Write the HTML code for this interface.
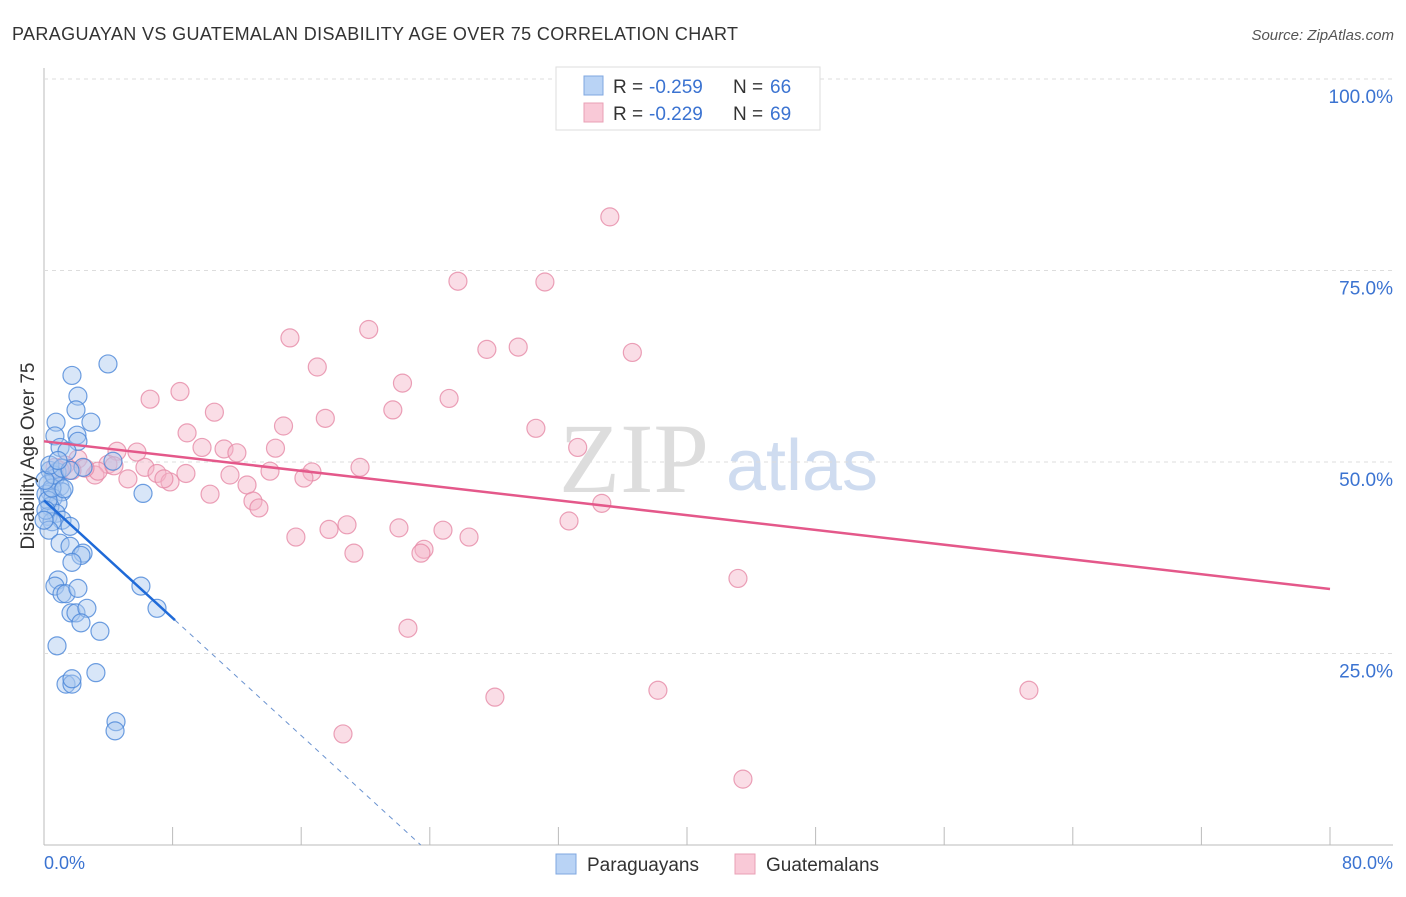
<!DOCTYPE html>
<html><head><meta charset="utf-8"><style>
body{margin:0;background:#fff;font-family:"Liberation Sans",sans-serif;}
</style></head><body>
<svg id="c" width="1406" height="892" xmlns="http://www.w3.org/2000/svg" font-family="Liberation Sans, sans-serif">
<text x="12" y="40" font-size="18" fill="#333" textLength="726">PARAGUAYAN VS GUATEMALAN DISABILITY AGE OVER 75 CORRELATION CHART</text>
<text x="1394" y="40" font-size="15" fill="#555" text-anchor="end" font-style="italic">Source: ZipAtlas.com</text>
<text x="634" y="492" font-size="100" fill="#ddd" style="font-family:'Liberation Serif',serif" text-anchor="middle">ZIP</text>
<text x="802" y="490" font-size="72" fill="#cfdcf0" text-anchor="middle">atlas</text>
<g id="grid"></g><g id="marks"></g>
<text transform="translate(34,456) rotate(-90)" font-size="19" fill="#333" text-anchor="middle">Disability Age Over 75</text>
<text x="44" y="869" font-size="18" fill="#3b73d1">0.0%</text>
<text x="1393" y="869" font-size="18" fill="#3b73d1" text-anchor="end">80.0%</text>
<g>
<rect x="556" y="67" width="264" height="63" fill="#fff" stroke="#ddd"/>
<rect x="584" y="76" width="19" height="19" fill="#b9d3f5" stroke="#7fa7e0"/>
<rect x="584" y="103" width="19" height="19" fill="#f9c9d7" stroke="#e9a0b6"/>
<text x="613" y="93" font-size="19" fill="#333">R =</text>
<text x="649" y="93" font-size="19" fill="#3b73d1">-0.259</text>
<text x="733" y="93" font-size="19" fill="#333">N =</text>
<text x="770" y="93" font-size="19" fill="#3b73d1">66</text>
<text x="613" y="120" font-size="19" fill="#333">R =</text>
<text x="649" y="120" font-size="19" fill="#3b73d1">-0.229</text>
<text x="733" y="120" font-size="19" fill="#333">N =</text>
<text x="770" y="120" font-size="19" fill="#3b73d1">69</text>
</g>
<g>
<rect x="556" y="854" width="20" height="20" fill="#b9d3f5" stroke="#7fa7e0"/>
<text x="587" y="871" font-size="19" fill="#333">Paraguayans</text>
<rect x="735" y="854" width="20" height="20" fill="#f9c9d7" stroke="#e9a0b6"/>
<text x="766" y="871" font-size="19" fill="#333">Guatemalans</text>
</g>
</svg>
<script>
const yTicks=[25,50,75,100];
const yTickLabels=["25.0%","50.0%","75.0%","100.0%"];
const xTicks=[0,8,16,24,32,40,48,56,64,72,80];
const blueX=[3.98,1.74,2.11,1.99,2.92,0.75,0.68,2.05,2.11,1.0,1.43,4.29,2.43,0.37,0.81,0.68,0.25,1.0,0.37,1.12,0.12,6.16,0.56,0.87,0.37,0.75,0.25,1.12,0.5,1.62,0.31,1.0,1.62,2.43,2.3,1.74,0.87,0.68,1.12,1.37,2.11,6.03,1.68,1.99,2.67,7.03,2.3,3.48,0.81,3.23,1.37,1.74,1.74,4.48,4.42,0.25,0.5,0.12,0.62,1.24,0.06,0.37,1.12,0,1.62,0.87];
const blueY=[62.8,61.3,58.6,56.8,55.2,55.2,53.4,53.5,52.7,51.9,51.4,50.1,49.3,48.9,48.7,47.9,47.1,46.8,46.1,46.1,45.8,45.9,45.3,44.6,44.2,43.3,42.9,42.4,42.2,41.6,41.1,39.4,39.0,38.1,37.8,36.9,34.6,33.8,32.8,32.8,33.5,33.8,30.3,30.3,30.9,30.9,29.0,27.9,26.0,22.5,21.0,21.0,21.7,16.1,14.9,45.0,46.6,43.7,48.3,46.5,47.6,49.6,49.2,42.4,48.9,50.2];
const pinkX=[35.2,25.75,31.16,15.3,20.2,27.55,29.5,36.6,17.0,22.3,8.46,6.6,25.2,21.7,10.6,17.5,14.9,30.6,8.9,33.2,4.54,5.78,9.83,11.2,12.0,14.4,2.11,1.31,3.98,6.28,7.03,8.83,14.06,16.67,19.66,3.17,5.22,7.84,11.57,7.46,16.17,12.63,10.33,13.0,13.37,34.7,32.66,18.85,17.73,22.08,24.82,15.67,26.44,19.28,23.64,23.45,43.17,22.64,38.19,61.27,28.05,18.6,43.48,3.36,2.55,1.74,1.0,0.68,4.35];
const pinkY=[82.0,73.6,73.5,66.2,67.3,64.7,65.0,64.3,62.4,60.3,59.2,58.2,58.3,56.8,56.5,55.7,54.7,54.4,53.8,51.9,51.4,51.3,51.9,51.7,51.2,51.8,50.4,49.6,49.7,49.3,48.5,48.5,48.8,48.7,49.3,48.3,47.8,47.4,48.3,47.8,47.9,47.0,45.8,44.9,44.0,44.6,42.3,41.8,41.2,41.4,41.1,40.2,40.2,38.1,38.6,38.1,34.8,28.3,20.2,20.2,19.3,14.5,8.6,48.8,49.2,48.9,48.9,49.3,49.5];
const blueTrend=[45.0,-1.92];
const pinkTrend=[52.7,-0.241];
const X=v=>44+v/80*1286, Y=v=>845-v/100*766;
const NS="http://www.w3.org/2000/svg";
function mk(p,t,a){const e=document.createElementNS(NS,t);for(const k in a)e.setAttribute(k,a[k]);p.appendChild(e);return e;}
const g=document.getElementById('grid'), m=document.getElementById('marks');
let ax=mk(g,'line',{x1:44,y1:68,x2:44,y2:845,stroke:'#bbb'});


let bx=mk(g,'line',{x1:44,y1:845,x2:1393,y2:845,stroke:'#bbb'});


yTicks.forEach((t,i)=>{
 const l=mk(g,'line',{x1:44,y1:Y(t),x2:1393,y2:Y(t),stroke:'#ddd','stroke-dasharray':'4,4'});
 
 
 const tx=mk(g,'text',{x:1393,y:Y(t)+24,'font-size':19,fill:'#3b73d1','text-anchor':'end'});
 tx.textContent=yTickLabels[i];
 
 
});
xTicks.forEach(t=>{
 const l=mk(g,'line',{x1:X(t),y1:827,x2:X(t),y2:845,stroke:'#bbb'});
 
 
});
function pts(xs,ys,fill,stroke,name){xs.forEach((x,i)=>{
 const c=mk(m,'circle',{cx:X(x),cy:Y(ys[i]),r:9,fill:fill,'fill-opacity':0.45,stroke:stroke,'stroke-width':1.2,'stroke-opacity':0.8});
 
 
});}
pts(pinkX,pinkY,'#f5b3c7','#e68aa6','guatemalan-point');
pts(blueX,blueY,'#a9c8f0','#4a86d8','paraguayan-point');
let pl=mk(m,'line',{x1:X(0),y1:Y(pinkTrend[0]),x2:X(80),y2:Y(pinkTrend[0]+pinkTrend[1]*80),stroke:'#e4588a','stroke-width':2.5});


const bEnd=-blueTrend[0]/blueTrend[1];
let bl=mk(m,'line',{x1:X(0),y1:Y(blueTrend[0]),x2:X(8.15),y2:Y(blueTrend[0]+blueTrend[1]*8.15),stroke:'#1f6ad8','stroke-width':2.5});


let bd=mk(m,'line',{x1:X(8.15),y1:Y(blueTrend[0]+blueTrend[1]*8.15),x2:X(bEnd),y2:Y(0),stroke:'#6b93d0','stroke-width':1,'stroke-dasharray':'5,5'});


</script>
</body></html>
